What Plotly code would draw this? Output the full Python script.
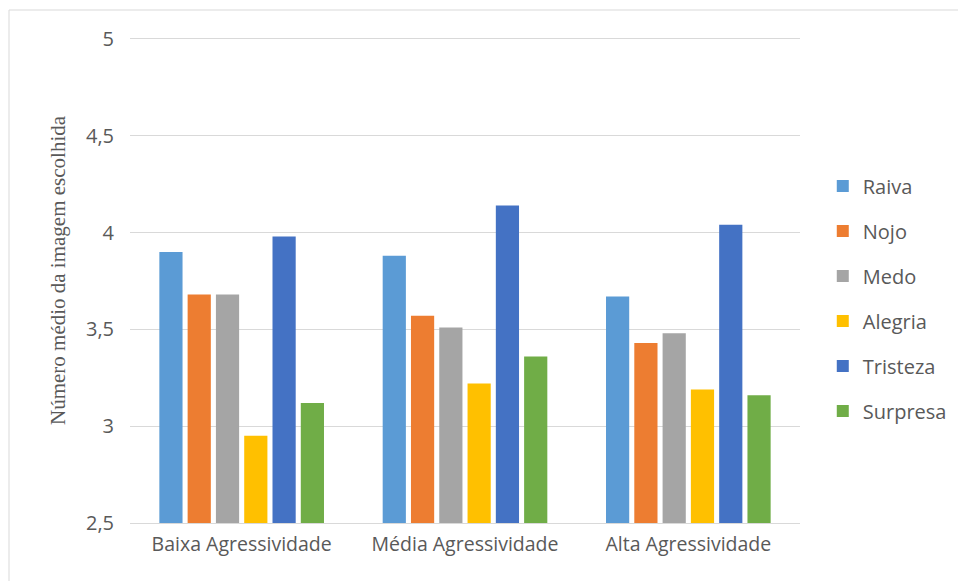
import plotly.graph_objects as go

categories = ["Baixa Agressividade", "Média Agressividade", "Alta Agressividade"]
series_names = ["Raiva", "Nojo", "Medo", "Alegria", "Tristeza", "Surpresa"]
raiva = [3.90, 3.88, 3.67]
nojo = [3.68, 3.57, 3.43]
medo = [3.68, 3.51, 3.48]
alegria = [2.95, 3.22, 3.19]
tristeza = [3.98, 4.14, 4.04]
surpresa = [3.12, 3.36, 3.16]
colors = ["#5B9BD5", "#ED7D31", "#A5A5A5", "#FFC000", "#4472C4", "#70AD47"]
y_title = "Número médio da imagem escolhida"

values = [raiva, nojo, medo, alegria, tristeza, surpresa]

fig = go.Figure()
for name, vals, col in zip(series_names, values, colors):
    fig.add_trace(go.Bar(x=categories, y=vals, name=name, marker_color=col,
                         marker_line_width=0, legendgroup=name))

L, R, T, B = 130, 800, 37, 523
W, H = 958, 581
sans = "Open Sans, Liberation Sans, sans-serif"
fig.update_layout(
    width=W, height=H,
    margin=dict(l=L, r=W - R, t=T, b=H - B, autoexpand=False),
    barmode="group", bargap=0.24, bargroupgap=0.18,
    plot_bgcolor="white", paper_bgcolor="white",
    separators=",.",
    font=dict(family=sans, color="#595959", size=16),
    legend=dict(x=1.034, xanchor="left", y=(B - 298.5) / (B - T), yanchor="middle",
                tracegroupgap=16, font=dict(family=sans, size=20, color="#595959"),
                traceorder="grouped", itemwidth=30),
    showlegend=True,
)
fig.update_yaxes(range=[2.5, 5.01], tickvals=[2.5, 3, 3.5, 4, 4.5, 5],
                 showgrid=True, gridcolor="#d9d9d9",
                 gridwidth=1, zeroline=False, ticklabelstandoff=15,
                 tickfont=dict(family=sans, size=20, color="#595959"))
fig.update_xaxes(showline=True, linecolor="#d9d9d9", linewidth=1,
                 tickfont=dict(family=sans, size=19.5, color="#595959"), ticklabelstandoff=4)

fig.add_annotation(text=y_title, textangle=-90, xref="paper", yref="paper",
                   x=(58 - L) / (R - L), y=(B - 270) / (B - T),
                   xanchor="center", yanchor="middle", showarrow=False,
                   font=dict(family="Liberation Serif, Times New Roman, serif",
                             size=21, color="#595959"))

fig.add_shape(type="rect", xref="paper", yref="paper",
              x0=(9 - L) / (R - L), x1=(975 - L) / (R - L),
              y0=(B - 600) / (B - T), y1=(B - 10) / (B - T),
              line=dict(color="#d9d9d9", width=1), layer="below")

fig.write_html("out.html")
